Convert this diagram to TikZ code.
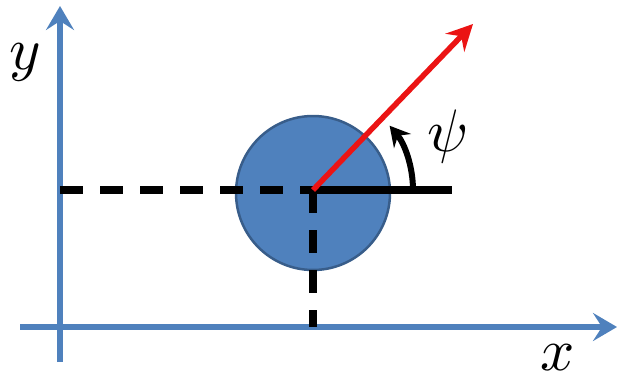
\documentclass[tikz,border=0pt]{standalone}
\usetikzlibrary{arrows.meta}
\definecolor{axisblue}{RGB}{79,129,189}
\definecolor{ringblue}{RGB}{56,93,138}
\definecolor{arrred}{RGB}{235,20,20}
\begin{document}
\begin{tikzpicture}[x=1pt,y=-1pt,
  axis/.style={draw=axisblue,line width=6pt,-{Stealth[length=24pt,width=28pt,inset=9pt]}},
  guide/.style={draw=black,line width=7.5pt,dash pattern=on 23pt off 17pt},
  solidline/.style={draw=black,line width=7.5pt},
  lbl/.style={inner sep=0pt,scale=6}]
\useasboundingbox (0,0) rectangle (619,383);
\coordinate (o) at (60,327);
\coordinate (xend) at (617,327);
\coordinate (xstart) at (20,327);
\coordinate (ystart) at (60,362);
\coordinate (yend) at (60,6);
\coordinate (c) at (313,190);
\coordinate (cx) at (313,327);
\coordinate (cy) at (60,190);
\coordinate (hend) at (452,190);
\coordinate (rend) at (473,24);
% circle
\node[circle,fill=axisblue,draw=ringblue,line width=2.5pt,minimum size=154pt,inner sep=0pt] (disk) at (313,193) {};
% axes
\draw[axis] (xstart) -- (xend);
\draw[axis] (ystart) -- (yend);
% guides
\draw[guide] (cy) -- (c);
\draw[guide] (c) -- (cx);
\draw[solidline] (309.5,190) -- (hend);
% heading arrow
\draw[draw=arrred,line width=5.5pt,-{Stealth[length=26pt,width=26pt,inset=9pt]}] (c) -- (rend);
% angle arrow
\draw[draw=black,line width=6pt,-{Stealth[length=20pt,width=22pt,inset=7pt]}] (c) ++(100,0) arc[start angle=0,end angle=-40,radius=100];
% labels
\node[lbl] (ylab) at (25,62) {$y$};
\node[lbl] (xlab) at (558,358) {$x$};
\node[lbl] (psilab) at (448,136) {$\psi$};
\end{tikzpicture}
\end{document}
